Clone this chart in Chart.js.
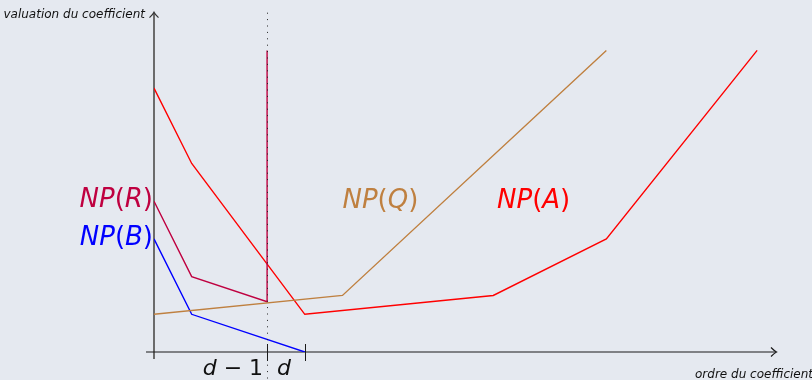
<!DOCTYPE html>
<html>
<head>
<meta charset="utf-8">
<script src="https://cdn.jsdelivr.net/npm/chart.js@4/dist/chart.umd.min.js"></script>
<style>
  html, body { margin: 0; padding: 0; background: #e5e9f0; }
  #wrap { width: 812px; height: 380px; }
</style>
</head>
<body>
<div id="wrap"><canvas id="c" width="812" height="380"></canvas></div>
<script>
// Newton polygons: (order of coefficient, valuation) vertices
const npA_x = [0, 1, 4, 9, 12, 16];
const npA_y = [7, 5, 1, 1.5, 3, 8];
const npR_x = [0, 1, 3, 3];
const npR_y = [4, 2, 4 / 3, 8];
const npB_x = [0, 1, 4];
const npB_y = [3, 1, 0];
const npQ_x = [0, 5, 12];
const npQ_y = [1, 1.5, 8];

// Marked orders on the horizontal axis
const tickValues = [3, 4];
const tickLabels = ['d \u2212 1', 'd'];

const COLORS = { A: '#ff0000', R: '#bf0040', B: '#0000ff', Q: '#bf8040' };

function pts(xs, ys) { return xs.map((x, i) => ({ x: x, y: ys[i] })); }

function line(label, xs, ys, color) {
  return {
    label: label, data: pts(xs, ys), showLine: true, borderColor: color,
    backgroundColor: color, borderWidth: 1.4, pointRadius: 0, tension: 0, fill: false
  };
}

// Draw text made of italic and upright runs (math-style labels)
function mixedText(ctx, runs, x, y, size, color, align) {
  const fam = '"DejaVu Sans", sans-serif';
  let total = 0;
  const widths = runs.map(r => {
    ctx.font = (r[1] ? 'oblique ' : '') + size + 'px ' + fam;
    const w = ctx.measureText(r[0]).width;
    total += w;
    return w;
  });
  let cx = align === 'right' ? x - total : x;
  ctx.fillStyle = color;
  ctx.textBaseline = 'alphabetic';
  ctx.textAlign = 'left';
  runs.forEach((r, i) => {
    ctx.font = (r[1] ? 'oblique ' : '') + size + 'px ' + fam;
    ctx.fillText(r[0], cx, y);
    cx += widths[i];
  });
}

const npLabel = (letter) => [['NP', true], ['(', false], [letter, true], [')', false]];

const axesPlugin = {
  id: 'axes',
  beforeDraw(chart) {
    const ctx = chart.ctx;
    ctx.save();
    ctx.fillStyle = '#e5e9f0';
    ctx.fillRect(0, 0, chart.width, chart.height);
    ctx.restore();
  },
  beforeDatasetsDraw(chart) {
    const ctx = chart.ctx;
    const xs = chart.scales.x, ys = chart.scales.y;
    const x0 = xs.getPixelForValue(0), y0 = ys.getPixelForValue(0);
    const xEnd = xs.getPixelForValue(xs.max), yTop = ys.getPixelForValue(ys.max);
    ctx.save();
    // vertical axis
    ctx.strokeStyle = '#6b6b6b';
    ctx.lineWidth = 2;
    ctx.beginPath();
    ctx.moveTo(x0, y0 + 7);
    ctx.lineTo(x0, yTop);
    ctx.stroke();
    ctx.lineWidth = 1.2;
    ctx.strokeStyle = '#333';
    ctx.beginPath();
    ctx.moveTo(x0 - 4.5, yTop + 5);
    ctx.quadraticCurveTo(x0 - 1, yTop + 1.5, x0, yTop - 0.5);
    ctx.quadraticCurveTo(x0 + 1, yTop + 1.5, x0 + 4.5, yTop + 5);
    ctx.stroke();
    // horizontal axis
    ctx.strokeStyle = '#1a1a1a';
    ctx.lineWidth = 1.2;
    ctx.beginPath();
    ctx.moveTo(x0 - 8, y0);
    ctx.lineTo(xEnd, y0);
    ctx.stroke();
    ctx.beginPath();
    ctx.moveTo(xEnd - 5, y0 - 4.5);
    ctx.quadraticCurveTo(xEnd - 1.5, y0 - 1, xEnd + 0.5, y0);
    ctx.quadraticCurveTo(xEnd - 1.5, y0 + 1, xEnd - 5, y0 + 4.5);
    ctx.stroke();
    // tick marks
    ctx.lineWidth = 1;
    tickValues.forEach(v => {
      const px = Math.round(xs.getPixelForValue(v)) + 0.5;
      ctx.beginPath();
      ctx.moveTo(px, y0 - 8);
      ctx.lineTo(px, y0 + 9);
      ctx.stroke();
    });
    ctx.restore();
  },
  afterDatasetsDraw(chart) {
    const ctx = chart.ctx;
    const xs = chart.scales.x, ys = chart.scales.y;
    const x0 = xs.getPixelForValue(0), y0 = ys.getPixelForValue(0);
    ctx.save();
    // dotted guide at order d - 1
    const dx = Math.round(xs.getPixelForValue(tickValues[0])) + 0.5;
    ctx.strokeStyle = '#222';
    ctx.lineWidth = 1;
    ctx.setLineDash([1, 5.4]);
    ctx.beginPath();
    ctx.moveTo(dx, ys.getPixelForValue(ys.max));
    ctx.lineTo(dx, chart.height);
    ctx.stroke();
    ctx.setLineDash([]);
    ctx.restore();

    ctx.save();
    // tick labels, flanking the guide
    const t1 = xs.getPixelForValue(tickValues[0]);
    mixedText(ctx, [['d', true], [' \u2212 1', false]], t1 - 4, y0 + 23, 22, '#111', 'right');
    mixedText(ctx, [['d', true]], t1 + 10, y0 + 23, 22, '#111', 'left');

    // polygon names
    mixedText(ctx, npLabel('R'), x0 - 1, ys.getPixelForValue(3.85), 26, COLORS.R, 'right');
    mixedText(ctx, npLabel('B'), x0 - 1, ys.getPixelForValue(2.83), 26, COLORS.B, 'right');
    mixedText(ctx, npLabel('Q'), xs.getPixelForValue(5), ys.getPixelForValue(3.82), 26, COLORS.Q, 'left');
    mixedText(ctx, npLabel('A'), xs.getPixelForValue(9.1), ys.getPixelForValue(3.82), 26, COLORS.A, 'left');

    // axis titles
    ctx.fillStyle = '#111';
    ctx.font = 'oblique 12px "DejaVu Sans", sans-serif';
    ctx.textBaseline = 'alphabetic';
    ctx.textAlign = 'right';
    ctx.fillText('valuation du coefficient', x0 - 9, 18);
    ctx.fillText('ordre du coefficient', chart.width + 1, 378);
    ctx.restore();
  }
};

new Chart(document.getElementById('c'), {
  type: 'scatter',
  data: {
    datasets: [
      line('NP(Q)', npQ_x, npQ_y, COLORS.Q),
      line('NP(B)', npB_x, npB_y, COLORS.B),
      line('NP(R)', npR_x, npR_y, COLORS.R),
      line('NP(A)', npA_x, npA_y, COLORS.A)
    ]
  },
  options: {
    responsive: false,
    animation: false,
    devicePixelRatio: 1,
    layout: { padding: { left: 154, right: 36, top: 12.7, bottom: 28 } },
    plugins: { legend: { display: false }, tooltip: { enabled: false } },
    scales: {
      x: { type: 'linear', min: 0, max: 16.5, display: false },
      y: { type: 'linear', min: 0, max: 9, display: false }
    }
  },
  plugins: [axesPlugin]
});
</script>
</body>
</html>
